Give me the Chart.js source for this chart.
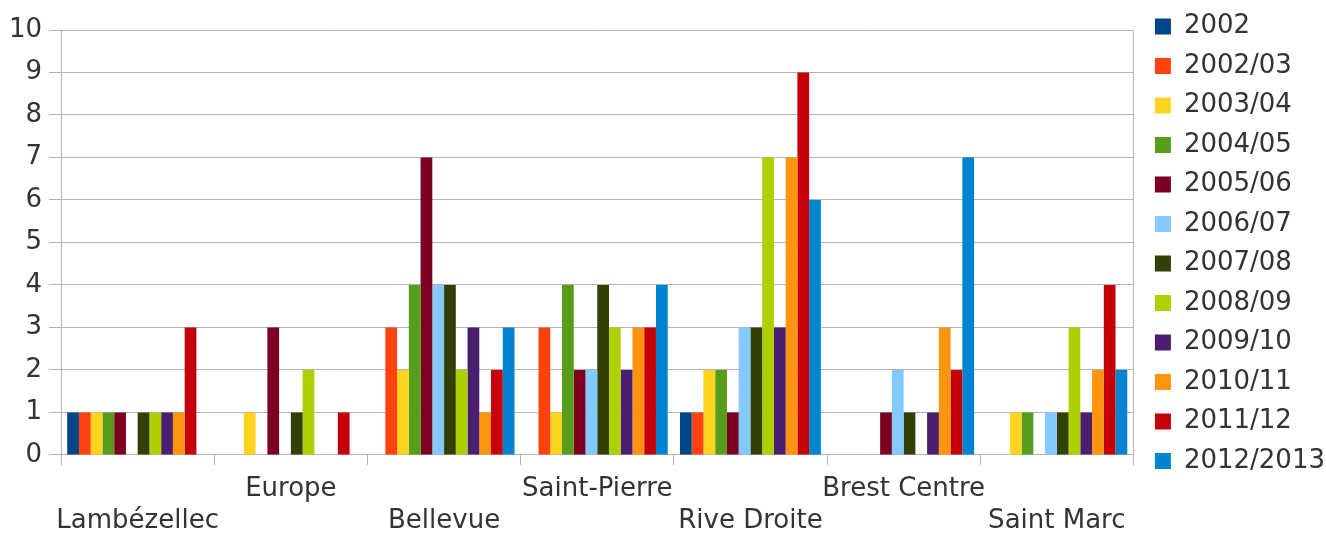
<!DOCTYPE html>
<html><head><meta charset="utf-8">
<script src="https://cdn.jsdelivr.net/npm/chart.js@4/dist/chart.umd.min.js"></script>
<style>html,body{margin:0;padding:0;background:#fff}#wrap{width:1326px;height:534px}</style>
</head><body><div id="wrap"><canvas id="c" width="1326" height="534"></canvas></div>
<script>
const categories = ['Lambézellec','Europe','Bellevue','Saint-Pierre','Rive Droite','Brest Centre','Saint Marc'];
const seriesNames = ['2002','2002/03','2003/04','2004/05','2005/06','2006/07','2007/08','2008/09','2009/10','2010/11','2011/12','2012/2013'];
const s2002    = [1,0,0,0,1,0,0];
const s2002_03 = [1,0,3,3,1,0,0];
const s2003_04 = [1,1,2,1,2,0,1];
const s2004_05 = [1,0,4,4,2,0,1];
const s2005_06 = [1,3,7,2,1,1,0];
const s2006_07 = [0,0,4,2,3,2,1];
const s2007_08 = [1,1,4,4,3,1,1];
const s2008_09 = [1,2,2,3,7,0,3];
const s2009_10 = [1,0,3,2,3,1,1];
const s2010_11 = [1,0,1,3,7,3,2];
const s2011_12 = [3,1,2,3,9,2,4];
const s2012_13 = [0,0,3,4,6,7,2];
const yTicks = [0,1,2,3,4,5,6,7,8,9,10];
const colors = ['#004586','#ff420e','#ffd320','#579d1c','#7e0021','#83caff','#314004','#aecf00','#4b1f6f','#ff950e','#c5000b','#0084d1'];
const allSeries = [s2002,s2002_03,s2003_04,s2004_05,s2005_06,s2006_07,s2007_08,s2008_09,s2009_10,s2010_11,s2011_12,s2012_13];

const labels = categories.map((c,i)=> i%2===0 ? ['', c] : [c, '']);
const FONT = 'DejaVu Sans';
const GRID = '#b3b3b3';
const FS = 26;

new Chart(document.getElementById('c'), {
  type: 'bar',
  data: {
    labels: labels,
    datasets: allSeries.map((d,i)=>({label: seriesNames[i], data: d, backgroundColor: colors[i], borderWidth: 0}))
  },
  options: {
    responsive: false,
    animation: false,
    devicePixelRatio: 1,
    datasets: {bar: {categoryPercentage: 0.92, barPercentage: 1.0}},
    layout: {padding: {left: 2, top: 0, right: -9, bottom: -11}},
    plugins: {
      tooltip: {enabled: false},
      title: {display: true, text: '', fullSize: false, font: {size: 10, lineHeight: 1.2}, padding: {top: 9, bottom: 9}},
      legend: {
        position: 'right',
        align: 'start',
        labels: {font: {family: FONT, size: FS}, color: '#333333', boxWidth: 16, boxHeight: 16, padding: 13.5}
      }
    },
    scales: {
      x: {
        grid: {display: true, drawOnChartArea: false, drawTicks: true, tickLength: 10, color: GRID, offset: true},
        border: {display: true, color: GRID},
        ticks: {font: {family: FONT, size: FS, lineHeight: 1.2308}, color: '#333333', autoSkip: false, maxRotation: 0, padding: 8}
      },
      y: {
        min: 0, max: 10,
        afterBuildTicks: ax => { ax.ticks = yTicks.map(v=>({value: v})); },
        grid: {color: GRID, tickLength: 12, drawTicks: true},
        border: {display: true, color: GRID},
        ticks: {font: {family: FONT, size: FS}, color: '#333333', padding: 7}
      },
      y2: {
        position: 'right', min: 0, max: 10,
        grid: {display: false},
        border: {display: true, color: GRID},
        ticks: {display: false}
      }
    }
  }
});
</script></body></html>
